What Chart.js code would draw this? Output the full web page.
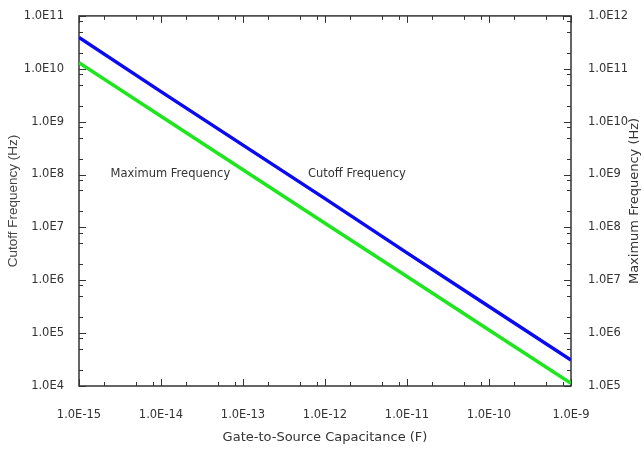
<!DOCTYPE html>
<html>
<head>
<meta charset="utf-8">
<script src="https://cdn.jsdelivr.net/npm/chart.js@4.4.1/dist/chart.umd.min.js"></script>
<style>
  html, body { margin: 0; padding: 0; background: #fff; }
  #wrap { width: 644px; height: 449px; position: relative; }
</style>
</head>
<body>
<div id="wrap"><canvas id="chart"></canvas></div>
<script>
// Gate-to-source capacitance (F) and the two frequencies read at each decade
const capacitance = [1e-15, 1e-14, 1e-13, 1e-12, 1e-11, 1e-10, 1e-9];
const cutoffHz = [3.9e10, 3.7e9, 3.6e8, 3.5e7, 3.3e6, 3.2e5, 3.1e4];
const maxFreqHz = [1.3e11, 1.26e10, 1.23e9, 1.2e8, 1.18e7, 1.15e6, 1.12e5];

const xTicks = [1e-15, 1e-14, 1e-13, 1e-12, 1e-11, 1e-10, 1e-9];
const leftTicks = [1e4, 1e5, 1e6, 1e7, 1e8, 1e9, 1e10, 1e11];
const rightTicks = [1e5, 1e6, 1e7, 1e8, 1e9, 1e10, 1e11, 1e12];

const seriesNames = ['Cutoff Frequency', 'Maximum Frequency'];

const tickFont = { family: 'Tahoma, "DejaVu Sans", sans-serif', size: 11.5 };
const sci = v => '1.0E' + Math.round(Math.log10(v));
const decades = list => scale => { scale.ticks = list.map(v => ({ value: v })); };

// frame with inward tick marks (decades long, 2/5/8 short) on all four sides
const frame = {
  id: 'frame',
  beforeDatasetsDraw(chart) {
    const { ctx, chartArea: a, scales } = chart;
    ctx.save();
    ctx.strokeStyle = '#333';
    ctx.lineWidth = 1.5;
    ctx.strokeRect(a.left, a.top, a.right - a.left, a.bottom - a.top);
    ctx.lineWidth = 1;
    const each = (scale, fn) => {
      const lo = Math.round(Math.log10(scale.min));
      const hi = Math.round(Math.log10(scale.max));
      for (let e = lo; e <= hi; e++) {
        for (const m of [1, 2, 5, 8]) {
          const v = m * Math.pow(10, e);
          if (v > scale.max * 1.0001) continue;
          fn(Math.round(scale.getPixelForValue(v)) + 0.5, m === 1 ? 7 : 4);
        }
      }
    };
    ctx.beginPath();
    each(scales.x, (p, len) => {
      ctx.moveTo(p, a.bottom); ctx.lineTo(p, a.bottom - len);
      ctx.moveTo(p, a.top); ctx.lineTo(p, a.top + len);
    });
    each(scales.y, (p, len) => {
      ctx.moveTo(a.left, p); ctx.lineTo(a.left + len, p);
    });
    each(scales.y2, (p, len) => {
      ctx.moveTo(a.right, p); ctx.lineTo(a.right - len, p);
    });
    ctx.stroke();
    ctx.restore();
  },
  afterDraw(chart) {
    const { ctx, scales } = chart;
    ctx.save();
    ctx.fillStyle = '#333';
    ctx.font = '11.5px Tahoma, "DejaVu Sans", sans-serif';
    ctx.textAlign = 'center';
    ctx.textBaseline = 'middle';
    // series names written next to the lines
    ctx.fillText(seriesNames[1], scales.x.getPixelForValue(1.3e-14), scales.y.getPixelForValue(1e8));
    ctx.fillText(seriesNames[0], scales.x.getPixelForValue(2.45e-12), scales.y.getPixelForValue(1e8));
    // right axis title, reading upwards
    ctx.font = '13px Tahoma, "DejaVu Sans", sans-serif';
    ctx.translate(635, (chart.chartArea.top + chart.chartArea.bottom) / 2);
    ctx.rotate(-Math.PI / 2);
    ctx.fillText('Maximum Frequency (Hz)', 0, 0);
    ctx.restore();
  }
};

const chart = new Chart(document.getElementById('chart'), {
  type: 'line',
  data: {
    datasets: [
      {
        label: seriesNames[0],
        data: capacitance.map((c, i) => ({ x: c, y: cutoffHz[i] })),
        borderColor: '#0a0af0',
        borderWidth: 3.5,
        pointRadius: 0,
        yAxisID: 'y'
      },
      {
        label: seriesNames[1],
        data: capacitance.map((c, i) => ({ x: c, y: maxFreqHz[i] })),
        borderColor: '#1ee61e',
        borderWidth: 3.5,
        pointRadius: 0,
        yAxisID: 'y2'
      }
    ]
  },
  options: {
    responsive: true,
    maintainAspectRatio: false,
    animation: false,
    layout: { padding: { top: 13 } },
    plugins: { legend: { display: false }, tooltip: { enabled: false } },
    scales: {
      x: {
        type: 'logarithmic',
        min: 1e-15,
        max: 1e-9,
        afterBuildTicks: decades(xTicks),
        afterFit: s => { s.height = 63; },
        grid: { display: false },
        border: { display: false },
        ticks: { callback: sci, font: tickFont, color: '#333', padding: 14, maxRotation: 0, autoSkip: false },
        title: {
          display: true,
          text: 'Gate-to-Source Capacitance (F)',
          font: { family: 'Tahoma, "DejaVu Sans", sans-serif', size: 13 },
          color: '#333',
          padding: { top: 4, bottom: 4 }
        }
      },
      y: {
        type: 'logarithmic',
        position: 'left',
        min: 1e4,
        max: 1e11,
        afterBuildTicks: decades(leftTicks),
        afterFit: s => { s.width = 79; },
        grid: { display: false },
        border: { display: false },
        ticks: { callback: sci, font: tickFont, color: '#333', padding: 7, autoSkip: false },
        title: {
          display: true,
          text: 'Cutoff Frequency (Hz)',
          font: { family: '"Liberation Sans", Arial, sans-serif', size: 13.5 },
          color: '#444',
          padding: { top: 5, bottom: 4 }
        }
      },
      y2: {
        type: 'logarithmic',
        position: 'right',
        min: 1e5,
        max: 1e12,
        afterBuildTicks: decades(rightTicks),
        afterFit: s => { s.width = 73; },
        grid: { display: false },
        border: { display: false },
        ticks: { callback: sci, font: tickFont, color: '#333', padding: 9, autoSkip: false }
      }
    }
  },
  plugins: [frame]
});
</script>
</body>
</html>
